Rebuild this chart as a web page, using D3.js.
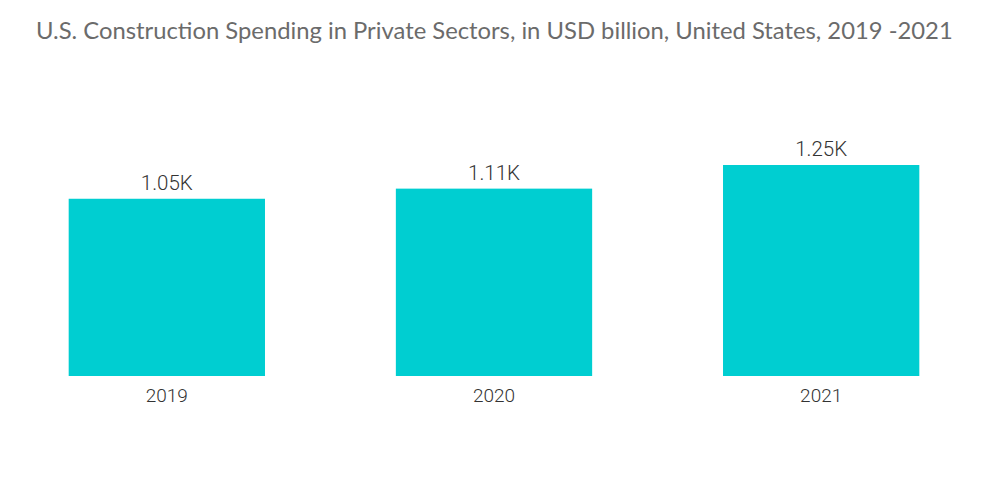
<!DOCTYPE html>
<html><head><meta charset="utf-8">
<script src="https://cdn.jsdelivr.net/npm/d3@7"></script>
<style>body{margin:0;background:#fff}</style>
</head><body><svg id="c" width="1000" height="504"></svg>
<script>
const categories = ["2019", "2020", "2021"];
const values = [1050, 1110, 1250];
const valueLabels = ["1.05K", "1.11K", "1.25K"];
const title = "U.S. Construction Spending in Private Sectors, in USD billion, United States, 2019 -2021";

const svg = d3.select("#c");
svg.append("text").attr("x", 36).attr("y", 39)
  .attr("font-family", "Lato, 'Open Sans', sans-serif").attr("font-size", 23.8)
  .attr("fill", "#6b6b6b").text(title);

const x = d3.scaleBand().domain(categories).range([3.25, 984.75]).paddingInner(0.4).paddingOuter(0.2);
const y = d3.scaleLinear().domain([0, 1250]).range([376, 165]);

svg.selectAll("rect.bar").data(values).join("rect").attr("class","bar")
  .attr("x", (d,i) => x(categories[i])).attr("width", x.bandwidth())
  .attr("y", d => y(d)).attr("height", d => y(0) - y(d)).attr("fill", "#00CED1");

svg.selectAll("text.val").data(values).join("text").attr("class","val")
  .attr("x", (d,i) => x(categories[i]) + x.bandwidth()/2).attr("y", d => y(d) - 9)
  .attr("text-anchor","middle").attr("font-family","Roboto, sans-serif").attr("font-weight", 300)
  .attr("font-size", 20.5).attr("fill","#333").text((d,i) => valueLabels[i]);

const ax = svg.append("g").attr("transform", `translate(0,${y(0)})`).call(d3.axisBottom(x).tickSize(0).tickPadding(13));
ax.select(".domain").remove();
ax.selectAll("text").attr("font-family","Roboto, sans-serif").attr("font-weight", 300)
  .attr("font-size", 19).attr("fill","#333");
</script></body></html>
